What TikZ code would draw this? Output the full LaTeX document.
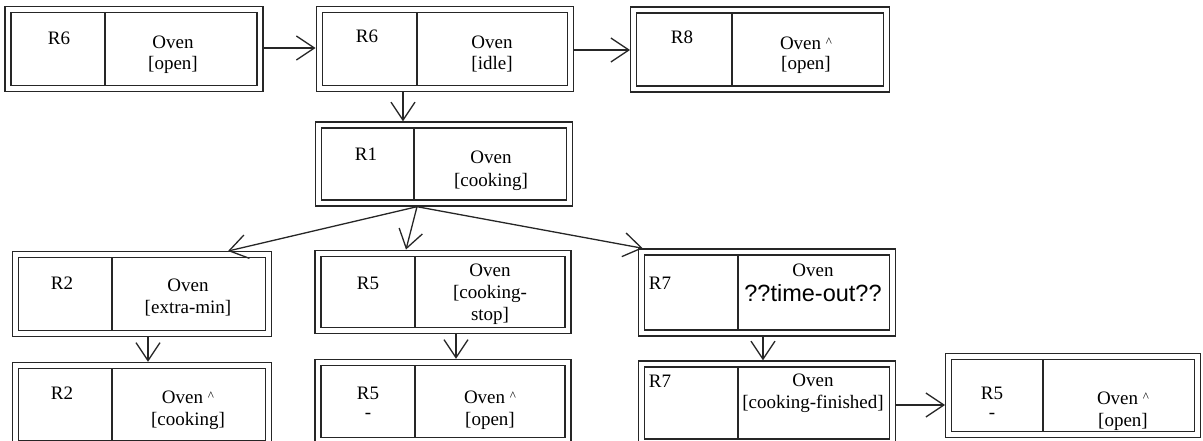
\documentclass[tikz,border=0pt]{standalone}
\usepackage{fontspec}
\setmainfont{Liberation Serif}
\newfontfamily\arialf{Liberation Sans}
\usetikzlibrary{arrows.meta,calc}
\newcommand\crt{{\fontsize{13}{13}\selectfont\raisebox{3pt}{\textasciicircum}}}
\tikzset{
  dbox/.style={draw=black!85, line width=1.3pt, double=white, double distance=4.8pt,
    inner sep=0pt, outer sep=3.7pt},
  divline/.style={draw=black!85, line width=1.3pt},
  lbl/.style={anchor=base, inner sep=0pt, font=\fontsize{19}{22}\selectfont},
  bigsans/.style={anchor=base, inner sep=0pt, font=\arialf\fontsize{23.5}{27}\selectfont},
  arr/.style={draw=black!85, line width=1.3pt, -{Straight Barb[length=18pt,width=24pt,line width=1.3pt]}}
}
\newcommand\ovbox[6]{%
  \node[dbox, minimum width=#4pt, minimum height=#5pt] (#1) at (#2,#3) {};
  \coordinate (#1d) at (#6,#3);
  \draw[divline] ($(#1.north -| #1d)+(0,6.7)$) -- ($(#1.south -| #1d)+(0,-6.7)$);
}
\begin{document}
\begin{tikzpicture}[x=1pt,y=-1pt]
\useasboundingbox (0,0) rectangle (1203,441);
\begin{scope}
\clip (0,0) rectangle (1203,441);
% boxes
\ovbox{B1}{134}{49}{252}{79}{105}
\ovbox{B2}{445}{49}{251.5}{79}{417}
\ovbox{B3}{760}{49.5}{252.5}{79}{732}
\ovbox{B4}{444}{164}{250.5}{78}{414}
\ovbox{B5}{142}{294}{253}{78.5}{112}
\ovbox{B6}{443}{292}{250}{77.5}{415}
\ovbox{B7}{767}{292.5}{251}{81}{738}
\ovbox{B8}{142}{404.5}{253}{78}{112}
\ovbox{B9}{443}{401.5}{250}{78}{415}
\ovbox{B10}{767}{403}{251}{78}{738}
\ovbox{B11}{1073}{395.5}{248.5}{78}{1043}
% texts
\node[lbl] (t1a) at (59,45) {R6};
\node[lbl] (t1b) at (173,49) {Oven};
\node[lbl] (t1c) at (173,70) {[open]};
\node[lbl] (t2a) at (367,43) {R6};
\node[lbl] (t2b) at (492,49) {Oven};
\node[lbl] (t2c) at (492,70) {[idle]};
\node[lbl] (t3a) at (682,44) {R8};
\node[lbl] (t3b) at (806,50) {Oven \crt};
\node[lbl] (t3c) at (806,70) {[open]};
\node[lbl] (t4a) at (366,161) {R1};
\node[lbl] (t4b) at (491,164) {Oven};
\node[lbl] (t4c) at (491,186) {[cooking]};
\node[lbl] (t5a) at (62,289) {R2};
\node[lbl] (t5b) at (188,291) {Oven};
\node[lbl] (t5c) at (188,313) {[extra-min]};
\node[lbl] (t6a) at (368,289) {R5};
\node[lbl] (t6b) at (490,276) {Oven};
\node[lbl] (t6c) at (490,298) {[cooking-};
\node[lbl] (t6d) at (490,320) {stop]};
\node[lbl] (t7a) at (660,289) {R7};
\node[lbl] (t7b) at (813,276) {Oven};
\node[bigsans] (t7c) at (813,301) {??time-out??};
\node[lbl] (t8a) at (62,399) {R2};
\node[lbl] (t8b) at (188,403) {Oven \crt};
\node[lbl] (t8c) at (188,425) {[cooking]};
\node[lbl] (t9a) at (368,399) {R5};
\node[lbl] (t9b) at (368,418) {-};
\node[lbl] (t9c) at (490,403) {Oven \crt};
\node[lbl] (t9d) at (490,425) {[open]};
\node[lbl] (t10a) at (660,387) {R7};
\node[lbl] (t10b) at (813,386) {Oven};
\node[lbl] (t10c) at (813,408) {[cooking-finished]};
\node[lbl] (t11a) at (992,399) {R5};
\node[lbl] (t11b) at (992,418) {-};
\node[lbl] (t11c) at (1123,404) {Oven \crt};
\node[lbl] (t11d) at (1123,426) {[open]};
% connector helpers
\coordinate (y48) at (0,48);
\coordinate (y50) at (0,50);
\coordinate (x403) at (403,0);
\coordinate (x417) at (417,0);
\coordinate (x228) at (228,0);
\coordinate (x406) at (406,0);
\coordinate (x148) at (148,0);
\coordinate (x456) at (456,0);
\coordinate (x763) at (763,0);
\coordinate (y405) at (0,405);
\coordinate (fan) at (B4.south -| x417);
% connectors
\draw[arr] (B1.east |- y48) -- (B2.west |- y48);
\draw[arr] (B2.east |- y50) -- (B3.west |- y50);
\draw[arr] (B2.south -| x403) -- (B4.north -| x403);
\draw[arr] (fan) -- (B5.north -| x228);
\draw[arr] (fan) -- (B6.north -| x406);
\draw[arr] (fan) -- ($(B7.north west)+(5,0)$);
\draw[arr] (B5.south -| x148) -- (B8.north -| x148);
\draw[arr] (B6.south -| x456) -- (B9.north -| x456);
\draw[arr] (B7.south -| x763) -- (B10.north -| x763);
\draw[arr] (B10.east |- y405) -- (B11.west |- y405);
\end{scope}
\end{tikzpicture}
\end{document}
